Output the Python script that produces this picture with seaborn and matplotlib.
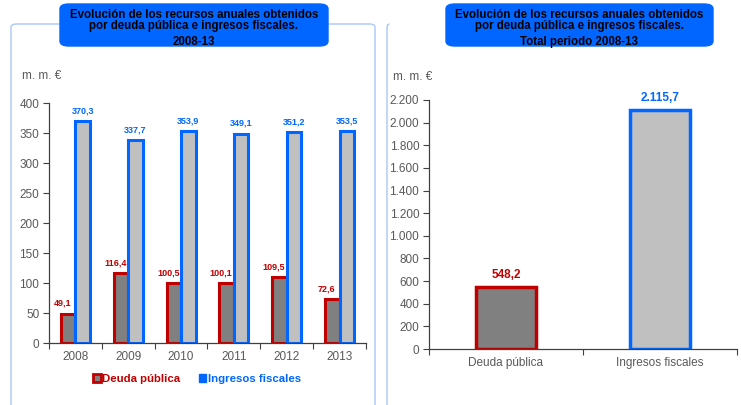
import matplotlib
matplotlib.use("Agg")
import matplotlib.pyplot as plt
import seaborn as sns
import pandas as pd
from matplotlib.patches import FancyBboxPatch, Patch
from matplotlib.lines import Line2D
from matplotlib.ticker import FixedLocator, FuncFormatter

years = ["2008", "2009", "2010", "2011", "2012", "2013"]
deuda = [49.1, 116.4, 100.5, 100.1, 109.5, 72.6]
ingresos = [370.3, 337.7, 353.9, 349.1, 351.2, 353.5]
series = ["Deuda pública", "Ingresos fiscales"]
total_cats = ["Deuda pública", "Ingresos fiscales"]
totals = [548.2, 2115.7]
left_ticks = [0, 50, 100, 150, 200, 250, 300, 350, 400]
right_ticks = [0, 200, 400, 600, 800, 1000, 1200, 1400, 1600, 1800, 2000, 2200]

DARK = "#808080"
LIGHT = "#C0C0C0"
RED = "#C00000"
BLUE = "#0066FF"
TXT = "#595959"
FRAME = "#A8C8F8"

sns.set_theme(style="white")
plt.rcParams["font.family"] = ["Liberation Sans", "DejaVu Sans"]

W, H = 741, 405
fig = plt.figure(figsize=(W / 100, H / 100), dpi=100)

def fx(px):
    return px / W

def fy(py):
    return 1 - py / H

def es(v, dec=1):
    s = f"{v:,.{dec}f}"
    return s.replace(",", "X").replace(".", ",").replace("X", ".")

# Frames
fig.patches.append(FancyBboxPatch((fx(11), fy(420)), fx(375) - fx(11), fy(24) - fy(420),
                                  boxstyle="round,pad=0,rounding_size=0.008",
                                  transform=fig.transFigure, facecolor="none",
                                  edgecolor=FRAME, linewidth=1.0, zorder=0))
fig.add_artist(Line2D([fx(389), fx(387.5), fx(387), fx(387)],
                      [fy(24), fy(25), fy(28), fy(405)], transform=fig.transFigure,
                      color=FRAME, linewidth=1.0))

# Title boxes
def title_box(x0, x1, lines):
    fig.patches.append(FancyBboxPatch((fx(x0), fy(46)), fx(x1) - fx(x0), fy(4) - fy(46),
                                      boxstyle="round,pad=0,rounding_size=0.012",
                                      transform=fig.transFigure, facecolor=BLUE,
                                      edgecolor=BLUE, linewidth=1, zorder=5))
    cx = fx((x0 + x1) / 2)
    for (txt, y) in zip(lines, [15, 26, 42]):
        fig.text(cx, fy(y), txt, ha="center", va="center", fontsize=8.3,
                 fontweight="bold", color="black", zorder=6)

title_box(60, 328, ["Evolución de los recursos anuales obtenidos",
                    "por deuda pública e ingresos fiscales.", "2008-13"])
title_box(446, 713, ["Evolución de los recursos anuales obtenidos",
                     "por deuda pública e ingresos fiscales.", "Total periodo 2008-13"])

fig.text(fx(22), fy(76), "m. m. €", ha="left", va="center", fontsize=8.5, color=TXT)
fig.text(fx(393), fy(77), "m. m. €", ha="left", va="center", fontsize=8.5, color=TXT)

# Left chart
axL = fig.add_axes([fx(49), fy(343), fx(366) - fx(49), fy(103) - fy(343)])
df = pd.DataFrame({
    "year": years * 2,
    "value": deuda + ingresos,
    "serie": [series[0]] * len(years) + [series[1]] * len(years),
})
sns.barplot(data=df, x="year", y="value", hue="serie", hue_order=series,
            palette=[DARK, LIGHT], width=0.55, ax=axL, legend=False, saturation=1)
edge_cols = [RED, BLUE]
shifts = [-4, 0]
for cont, ec, vals, sh in zip(axL.containers, edge_cols, [deuda, ingresos], shifts):
    for p, v in zip(cont, vals):
        p.set_edgecolor(ec)
        p.set_linewidth(2.2)
        axL.annotate(es(v), xy=(p.get_x() + p.get_width() / 2, p.get_height()),
                     xytext=(sh, 4), textcoords="offset points", ha="center",
                     va="bottom", color=ec, fontsize=6.5, fontweight="bold")
axL.set_ylim(0, 400)
axL.set_xlim(-0.5, len(years) - 0.5)
axL.yaxis.set_major_locator(FixedLocator(left_ticks))
axL.yaxis.set_major_formatter(FuncFormatter(lambda v, p: es(v, 0)))
axL.set_xlabel("")
axL.set_ylabel("")

# Right chart
axR = fig.add_axes([fx(429), fy(349), fx(737) - fx(429), fy(100) - fy(349)])
sns.barplot(x=total_cats, y=totals, hue=total_cats, palette=[DARK, LIGHT],
            width=0.39, ax=axR, legend=False, saturation=1)
for cont, ec, v in zip(axR.containers, edge_cols, totals):
    for p in cont:
        p.set_edgecolor(ec)
        p.set_linewidth(2.5)
    axR.bar_label(cont, labels=[es(v)], padding=4, color=ec, fontsize=8.5,
                  fontweight="bold")
axR.set_ylim(0, 2200)
axR.set_xlim(-0.5, 1.5)
axR.yaxis.set_major_locator(FixedLocator(right_ticks))
axR.yaxis.set_major_formatter(FuncFormatter(lambda v, p: es(v, 0)))
axR.set_xlabel("")
axR.set_ylabel("")

for ax, n in [(axL, len(years)), (axR, 2)]:
    for s in ["top", "right"]:
        ax.spines[s].set_visible(False)
    for s in ["left", "bottom"]:
        ax.spines[s].set_color("#404040")
        ax.spines[s].set_linewidth(0.9)
    ax.set_facecolor("none")
    ax.tick_params(axis="y", which="major", left=True, length=4, width=0.8,
                   color="#404040", labelsize=8.5, labelcolor=TXT, pad=3)
    ax.tick_params(axis="x", which="major", bottom=False, length=0,
                   labelsize=8.5, labelcolor=TXT, pad=6)
    ax.xaxis.set_minor_locator(FixedLocator([i - 0.5 for i in range(n + 1)]))
    ax.tick_params(axis="x", which="minor", bottom=True, length=4, width=0.8,
                   color="#404040")

# Legend
handles = [Patch(facecolor=DARK, edgecolor=RED, linewidth=2),
           Patch(facecolor=BLUE, edgecolor=BLUE, linewidth=1)]
leg = fig.legend(handles, series, loc="center", bbox_to_anchor=(fx(197), fy(379)),
                 ncol=2, frameon=False, handlelength=0.65, handleheight=0.7,
                 handletextpad=0.15, columnspacing=1.6,
                 prop={"size": 8.2, "weight": "bold"})
for t, c in zip(leg.get_texts(), [RED, BLUE]):
    t.set_color(c)

fig.savefig("out.png", dpi=100)
